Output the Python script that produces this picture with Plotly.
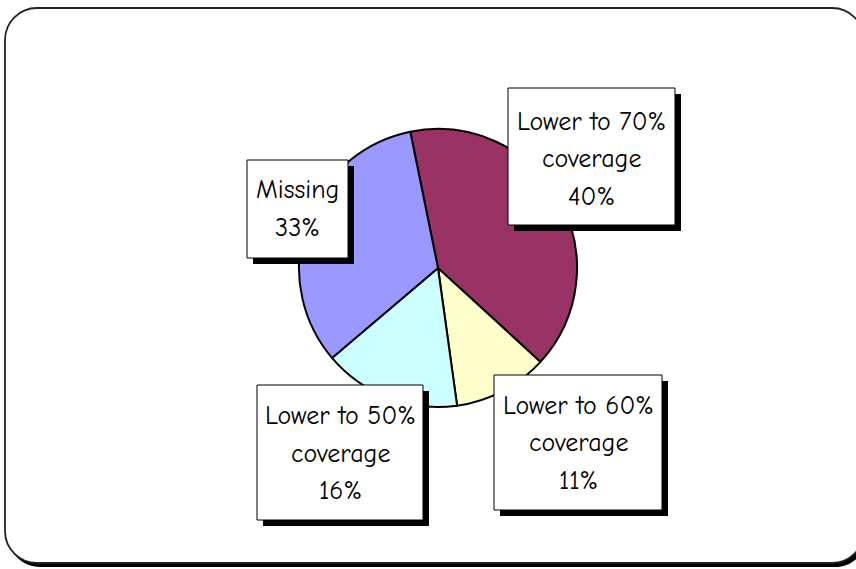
import plotly.graph_objects as go

W, H = 856, 569

# ---- data ----
labels = ["Lower to 70% coverage", "Lower to 60% coverage", "Lower to 50% coverage", "Missing"]
label_lines = [["Lower to 70%", "coverage"], ["Lower to 60%", "coverage"], ["Lower to 50%", "coverage"], ["Missing"]]
values = [40, 11, 16, 33]
colors = ["#993366", "#FFFFCC", "#CCFFFF", "#9999FF"]

FONT = "Comic Sans MS, Comic Neue, DejaVu Sans, sans-serif"


def px(x):
    return x / W


def py(y):
    return 1 - y / H


def rrect_path(x0, y0, x1, y1, r):
    k = 0.5523 * r
    pts = []
    P = lambda x, y: f"{px(x):.5f},{py(y):.5f}"
    pts.append(f"M {P(x0 + r, y0)}")
    pts.append(f"L {P(x1 - r, y0)}")
    pts.append(f"C {P(x1 - r + k, y0)} {P(x1, y0 + r - k)} {P(x1, y0 + r)}")
    pts.append(f"L {P(x1, y1 - r)}")
    pts.append(f"C {P(x1, y1 - r + k)} {P(x1 - r + k, y1)} {P(x1 - r, y1)}")
    pts.append(f"L {P(x0 + r, y1)}")
    pts.append(f"C {P(x0 + r - k, y1)} {P(x0, y1 - r + k)} {P(x0, y1 - r)}")
    pts.append(f"L {P(x0, y0 + r)}")
    pts.append(f"C {P(x0, y0 + r - k)} {P(x0 + r - k, y0)} {P(x0 + r, y0)}")
    pts.append("Z")
    return " ".join(pts)


cx, cy, R = 438, 268, 139

fig = go.Figure()
fig.add_trace(go.Pie(
    labels=labels,
    values=values,
    sort=False,
    direction="clockwise",
    rotation=-11.5,
    marker=dict(colors=colors, line=dict(color="black", width=2)),
    textinfo="none",
    hoverinfo="label+percent",
    showlegend=False,
    domain=dict(x=[px(cx - R), px(cx + R)], y=[py(cy + R), py(cy - R)]),
))

shapes = []
# outer frame with shadow
shapes.append(dict(type="path", xref="paper", yref="paper", layer="below",
                   path=rrect_path(8, 11, 867, 567, 32),
                   fillcolor="black", line=dict(width=0)))
shapes.append(dict(type="path", xref="paper", yref="paper", layer="below",
                   path=rrect_path(5, 8, 864, 563, 32),
                   fillcolor="white", line=dict(color="#222222", width=1.8)))

# label boxes (x0, y0, x1, y1) and line centres, one per slice
boxes = [(508, 88, 675, 225), (494, 375, 662, 510), (257, 385, 423, 520), (247, 160, 348, 258)]
line_y = [[122, 159, 197], [406, 443, 481], [416, 454, 491], [190, 228]]

annotations = []
total = sum(values)
for i, (b, ly) in enumerate(zip(boxes, line_y)):
    x0, y0, x1, y1 = b
    off = 6
    shapes.append(dict(type="rect", xref="paper", yref="paper", layer="above",
                       x0=px(x0 + off), x1=px(x1 + off), y0=py(y0 + off), y1=py(y1 + off),
                       fillcolor="black", line=dict(width=0)))
    shapes.append(dict(type="rect", xref="paper", yref="paper", layer="above",
                       x0=px(x0), x1=px(x1), y0=py(y0), y1=py(y1),
                       fillcolor="white", line=dict(color="black", width=1)))
    texts = label_lines[i] + [f"{round(values[i] / total * 100)}%"]
    for t, yy in zip(texts, ly):
        annotations.append(dict(xref="paper", yref="paper", x=px((x0 + x1) / 2), y=py(yy),
                                xanchor="center", yanchor="middle", showarrow=False,
                                text=t, font=dict(family=FONT, size=26, color="black")))

fig.update_layout(
    width=W, height=H,
    margin=dict(l=0, r=0, t=0, b=0),
    paper_bgcolor="white",
    plot_bgcolor="white",
    shapes=shapes,
    annotations=annotations,
)

fig.write_html("out.html", config={"displayModeBar": False},
               post_script="document.body.style.margin='0';document.body.style.overflow='hidden';")
